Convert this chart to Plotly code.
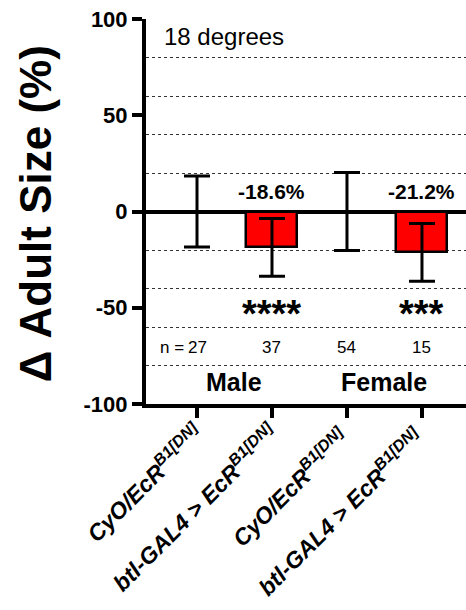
import plotly.graph_objects as go

# ---- data ----
categories = [
    "CyO/EcR<sup>B1[DN]</sup>",
    "btl-GAL4 > EcR<sup>B1[DN]</sup>",
    "CyO/EcR<sup>B1[DN]</sup> ",
    "btl-GAL4 > EcR<sup>B1[DN]</sup> ",
]
means = [0.0, -18.6, 0.0, -21.2]
errors = [18.5, 15.0, 20.3, 15.0]
n_values = ["27", "37", "54", "15"]
pct_labels = ["", "-18.6%", "", "-21.2%"]
stars = ["", "****", "", "***"]
sex_groups = ["Male", "Female"]
sex_pos = [0.5, 2.5]
y_ticks = [-100, -50, 0, 50, 100]

FONT = "Liberation Sans, Arial, sans-serif"
xpos = list(range(len(categories)))

fig = go.Figure()
fig.add_trace(go.Bar(
    x=xpos, y=means, width=0.68,
    marker=dict(color=["rgba(0,0,0,0)", "#ff0000", "rgba(0,0,0,0)", "#ff0000"],
                line=dict(color="black", width=2.5)),
    error_y=dict(type="data", array=errors, visible=True,
                 color="black", thickness=3, width=13),
    showlegend=False, hoverinfo="skip",
))

ann = []
ann.append(dict(x=0.05, xref="paper", y=91, yref="y", text="18 degrees",
                showarrow=False, xanchor="left", yanchor="middle",
                font=dict(family=FONT, size=24, color="black")))
for i in range(len(categories)):
    if pct_labels[i]:
        ann.append(dict(x=xpos[i], y=10.6, text="<b>%s</b>" % pct_labels[i],
                        showarrow=False, xanchor="center", yanchor="middle",
                        font=dict(family=FONT, size=21, color="black")))
    if stars[i]:
        ann.append(dict(x=xpos[i], y=-53.5, text="<b>%s</b>" % stars[i],
                        showarrow=False, xanchor="center", yanchor="middle",
                        font=dict(family=FONT, size=38, color="black")))
    ann.append(dict(x=xpos[i], y=-70.6, text=n_values[i],
                    showarrow=False, xanchor="center", yanchor="middle",
                    font=dict(family=FONT, size=17, color="black")))
ann.append(dict(x=xpos[0], y=-70.6, text="n =", xshift=-11,
                showarrow=False, xanchor="right", yanchor="middle",
                font=dict(family=FONT, size=17, color="black")))
for s, p in zip(sex_groups, sex_pos):
    ann.append(dict(x=p, y=-88.8, text="<b>%s</b>" % s,
                    showarrow=False, xanchor="center", yanchor="middle",
                    font=dict(family=FONT, size=25, color="black")))
ann.append(dict(x=-0.344, xref="paper", y=0.495, yref="paper",
                text="<b>Δ Adult Size (%)</b>", textangle=-90,
                showarrow=False, xanchor="center", yanchor="middle",
                font=dict(family=FONT, size=44, color="black")))

fig.update_layout(
    width=466, height=610,
    margin=dict(l=146, r=0, t=19, b=206, autoexpand=False),
    plot_bgcolor="white", paper_bgcolor="white",
    annotations=ann,
    bargap=0,
)
fig.update_xaxes(
    range=[-0.68, 3.587],
    tickmode="array", tickvals=xpos, ticktext=categories,
    tickangle=-45, ticklabelstandoff=-7,
    tickfont=dict(family=FONT, size=23, color="black", weight="bold", style="italic"),
    showline=True, linecolor="black", linewidth=4,
    ticks="outside", ticklen=10, tickwidth=4, tickcolor="black",
    showgrid=False, zeroline=False, automargin=False,
)
fig.update_yaxes(
    range=[-100, 100],
    tickmode="array", tickvals=y_ticks, ticktext=[str(v) for v in y_ticks],
    tickfont=dict(family=FONT, size=22, color="black", weight="bold"),
    showline=True, linecolor="black", linewidth=4,
    ticks="outside", ticklen=10, tickwidth=4, tickcolor="black",
    showgrid=False, automargin=False,
    zeroline=True, zerolinecolor="black", zerolinewidth=4,
    minor=dict(tickmode="linear", tick0=0, dtick=20, showgrid=True,
               gridcolor="#333333", griddash="dot", gridwidth=1, ticks=""),
)

fig.write_html("out.html")
